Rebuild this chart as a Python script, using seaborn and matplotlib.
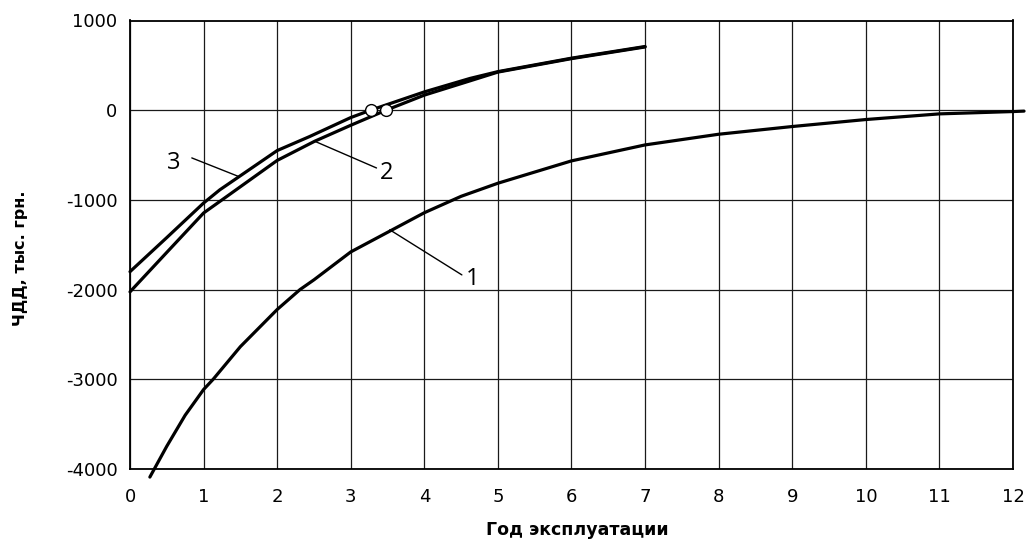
import matplotlib
matplotlib.use("Agg")
import matplotlib.pyplot as plt
import seaborn as sns
import pandas as pd

# Curve 1
x1 = [0.27, 0.5, 0.75, 1.0, 1.13, 1.5, 2.0, 2.31, 2.5, 3.0, 4.0, 4.5, 5.0, 6.0, 7.0, 8.0, 9.0, 10.0, 11.0, 12.0, 12.15]
y1 = [-4090, -3746, -3400, -3114, -3000, -2636, -2222, -2000, -1891, -1580, -1143, -960, -814, -565, -387, -268, -182, -104, -41, -15, -10]
# Curve 2
x2 = [0.0, 0.5, 1.0, 1.25, 2.0, 2.51, 3.0, 3.48, 4.0, 4.62, 5.0, 6.0, 7.0]
y2 = [-2025, -1585, -1146, -1000, -560, -346, -168, 0, 168, 327, 425, 575, 705]
# Curve 3
x3 = [0.0, 0.5, 1.0, 1.22, 2.0, 2.44, 3.0, 3.27, 4.0, 4.62, 5.0, 6.0, 7.0]
y3 = [-1800, -1420, -1035, -888, -450, -294, -82, 0, 204, 354, 430, 580, 710]

# Payback points
pb_x = [3.27, 3.48]
pb_y = [0, 0]

xticks = list(range(0, 13))
yticks = [-4000, -3000, -2000, -1000, 0, 1000]

curve_labels = ["1", "2", "3"]
label_pos = [(4.65, -1884), (3.49, -700), (0.60, -584)]
leader_from = [(4.51, -1836), (3.35, -644), (0.84, -532)]
leader_to = [(3.53, -1333), (2.51, -346), (1.47, -737)]

sns.set_style("white")
plt.rcParams['font.family'] = ['DejaVu Sans']
plt.rcParams['axes.unicode_minus'] = False
plt.rcParams['text.color'] = 'black'
plt.rcParams['axes.labelcolor'] = 'black'

fig = plt.figure(figsize=(10.29, 5.39), dpi=100)
ax = fig.add_axes([130 / 1029, 1 - 469 / 539, (1013 - 130) / 1029, (469 - 20.5) / 539])

df1 = pd.DataFrame({"x": x1, "y": y1})
df2 = pd.DataFrame({"x": x2, "y": y2})
df3 = pd.DataFrame({"x": x3, "y": y3})
for d in (df1, df2, df3):
    sns.lineplot(data=d, x="x", y="y", ax=ax, color="black", linewidth=2.3,
                 sort=False, estimator=None, clip_on=False, zorder=3)

ax.plot(pb_x, pb_y, linestyle="none", marker="o", markersize=8.5,
        markerfacecolor="white", markeredgecolor="black", markeredgewidth=1.0, zorder=4)

for lab, (tx, ty), (fx, fy), (ex, ey) in zip(curve_labels, label_pos, leader_from, leader_to):
    ax.plot([fx, ex], [fy, ey], color="black", linewidth=1.0, zorder=3)
    ax.text(tx, ty, lab, fontsize=17, ha="center", va="center", color="black",
            family=['Open Sans', 'DejaVu Sans'])

ax.set_xlim(0, 12)
ax.set_ylim(-4000, 1000)
ax.set_xticks(xticks)
ax.set_yticks(yticks)
ax.grid(True, color="#1a1a1a", linewidth=0.9)
ax.set_axisbelow(True)
for s in ax.spines.values():
    s.set_color("black")
    s.set_linewidth(1.3)
ax.tick_params(axis="both", length=0, labelsize=13, colors="black")
ax.tick_params(axis="x", pad=14)
ax.tick_params(axis="y", pad=9)

ax.set_xlabel("Год эксплуатации", fontsize=12.5, fontweight="bold", color="black")
ax.set_ylabel("ЧДД, тыс. грн.", fontsize=11.5, fontweight="bold", color="black")
ax.xaxis.set_label_coords(0.507, -0.116)
ax.yaxis.set_label_coords(-0.116, 0.47)

fig.savefig("out.png", dpi=100)
